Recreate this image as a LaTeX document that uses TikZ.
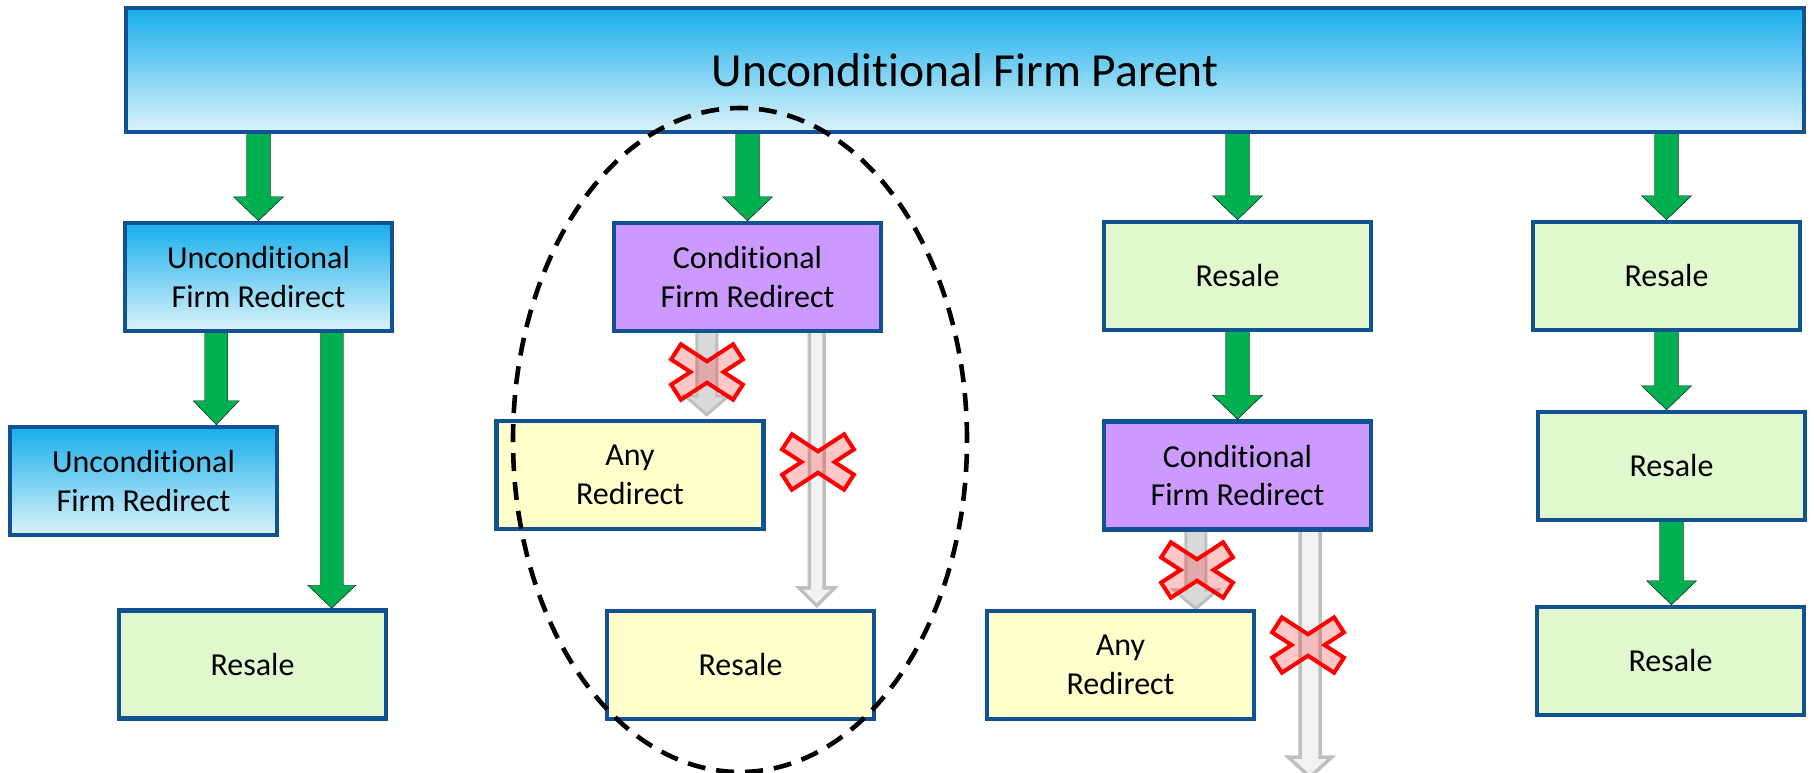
\documentclass[tikz,border=0pt]{standalone}
\usepackage{fontspec}
\setmainfont{Carlito}[Ligatures=NoCommon]
\usetikzlibrary{calc,backgrounds}
\definecolor{edge}{RGB}{17,82,147}
\definecolor{arrowgreen}{RGB}{0,176,80}
\definecolor{skytop}{RGB}{22,174,236}
\definecolor{skymid}{RGB}{140,205,242}
\definecolor{skybot}{RGB}{220,243,249}
\definecolor{lilac}{RGB}{204,153,255}
\definecolor{mint}{RGB}{225,247,206}
\definecolor{cream}{RGB}{255,255,204}
\definecolor{greyrim}{RGB}{191,191,191}
\definecolor{greyfill}{RGB}{217,217,217}
\definecolor{greypale}{RGB}{242,242,242}

\newcommand\blockarrow[6][]{%
  \draw[#1] let \p1=(#2), \p2=(#3) in
    (\x1-#4,\y1+3pt) -- (\x1-#4,\y2+#6) -- (\x1-#5,\y2+#6) -- (\x1,\y2)
    -- (\x1+#5,\y2+#6) -- (\x1+#4,\y2+#6) -- (\x1+#4,\y1+3pt) -- cycle;}
\newcommand\nogo[1]{%
  \draw[nogomark,shift={(#1)}] (16.5,0) -- (35.9,12.6) -- (26.1,27.7) -- (0,10.7)
    -- (-26.1,27.7) -- (-35.9,12.6) -- (-16.5,0) -- (-35.9,-12.6) -- (-26.1,-27.7)
    -- (0,-10.7) -- (26.1,-27.7) -- (35.9,-12.6) -- cycle;}

\begin{document}
\begin{tikzpicture}[x=1pt,y=-1pt,line join=miter,
  box/.style={draw=edge,line width=4.5pt,minimum width=267pt,minimum height=108pt,
    inner sep=0pt,align=center,font=\fontsize{32pt}{38.5pt}\selectfont},
  sky/.style={box,top color=skytop,middle color=skymid,bottom color=skybot},
  greenway/.style={fill=arrowgreen},
  barred/.style={fill=greyfill,draw=greyrim,line width=3pt},
  barredpale/.style={fill=greypale,draw=greyrim,line width=3.5pt},
  nogomark/.style={draw=red,line width=4pt,fill=red,fill opacity=0.22},
  ring/.style={draw=black,line width=4.6pt,dash pattern=on 18pt off 11pt}]
  \useasboundingbox (0,0) rectangle (1814,773);
  \node[sky,minimum width=1678pt,minimum height=124pt,font=\fontsize{47.5pt}{56pt}\selectfont] (top) at (965,70) {Unconditional Firm Parent};
  \node[sky] (ufrA) at (258.5,277) {Unconditional\\Firm Redirect};
  \node[sky] (ufrB) at (143.5,481) {Unconditional\\Firm Redirect};
  \node[box,fill=mint] (resA) at (252.5,664.5) {Resale};
  \node[box,fill=lilac] (cfrA) at (747.5,277) {Conditional\\Firm Redirect};
  \node[box,fill=cream] (anyA) at (630,475) {Any\\Redirect};
  \node[box,fill=cream] (resB) at (740.5,665) {Resale};
  \node[box,fill=mint] (resC) at (1237.5,276) {Resale};
  \node[box,fill=lilac] (cfrB) at (1237.5,475.5) {Conditional\\Firm Redirect};
  \node[box,fill=cream] (anyB) at (1120.5,665) {Any\\Redirect};
  \node[box,fill=mint] (resD) at (1666.5,276) {Resale};
  \node[box,fill=mint] (resE) at (1671.5,466) {Resale};
  \node[box,fill=mint] (resF) at (1670.5,661) {Resale};
  \coordinate (cut) at (1310,777);
  \begin{scope}[on background layer]
    \blockarrow[greenway]{top.south -| ufrA.north}{ufrA.north}{12pt}{25pt}{24pt}
    \blockarrow[greenway]{top.south -| cfrA.north}{cfrA.north}{12pt}{25pt}{24pt}
    \blockarrow[greenway]{top.south -| resC.north}{resC.north}{12pt}{25pt}{24pt}
    \blockarrow[greenway]{top.south -| resD.north}{resD.north}{12pt}{25pt}{24pt}
    \blockarrow[greenway]{[xshift=93.5pt]ufrA.south west}{ufrB.north}{11.5pt}{23pt}{24pt}
    \blockarrow[greenway]{[xshift=-62.5pt]ufrA.south east}{resA.north}{11.5pt}{24pt}{23pt}
    \blockarrow[greenway]{resC.south}{cfrB.north}{12pt}{25pt}{24pt}
    \blockarrow[greenway]{resD.south}{resE.north}{12pt}{25pt}{24pt}
    \blockarrow[greenway]{resE.south}{resF.north}{12pt}{25pt}{24pt}
    \blockarrow[barred]{[xshift=95pt]cfrA.south west}{[yshift=4pt]anyA.north}{10pt}{22pt}{19pt}
    \blockarrow[barredpale]{[xshift=205pt]cfrA.south west}{[yshift=3pt]resB.north}{7.3pt}{18pt}{18pt}
    \blockarrow[barred]{[xshift=94pt]cfrB.south west}{anyB.north}{10pt}{22pt}{19pt}
    \blockarrow[barredpale]{cfrB.south -| cut}{cut}{10pt}{22pt}{20pt}
  \end{scope}
  \nogo{707,372}
  \nogo{818,462}
  \nogo{1197,570}
  \nogo{1308,645}
  \draw[ring] (740,440) ellipse [x radius=227pt, y radius=332pt];
\end{tikzpicture}
\end{document}
